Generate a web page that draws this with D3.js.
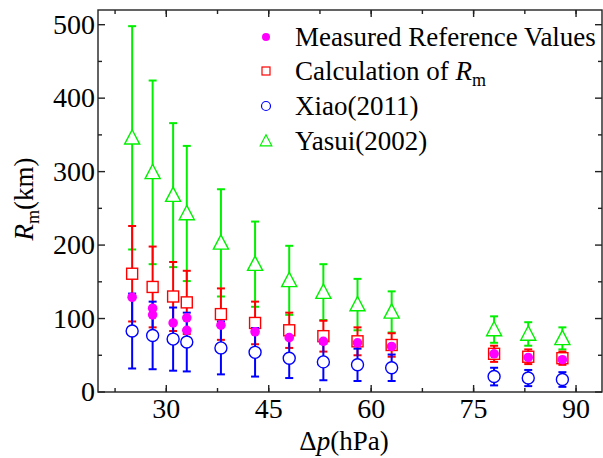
<!DOCTYPE html>
<html>
<head>
<meta charset="utf-8">
<script src="https://cdn.jsdelivr.net/npm/d3@7"></script>
<style>
  body { margin: 0; background: #fff; }
</style>
</head>
<body>
<div id="chart"></div>
<script>
// --------------------------------------
//  Data
// --------------------------------------

const dp = [25, 28, 31, 33, 38, 43, 48, 53, 58, 63, 78, 83, 88];

const measuredDp = [25, 28, 28, 31, 33, 33, 38, 43, 48, 53, 58, 63, 78, 83, 88];
const measuredRm = [129, 114, 105, 94, 101, 84, 91, 82, 74, 69, 67, 62, 52, 47, 44];

const calcRm  = [161, 143, 130, 122, 106, 94, 84, 76, 69, 64, 52, 48, 46];
const calcErr = [65, 55, 47, 43, 35, 29, 24, 21, 19, 16, 11, 10, 9];

const xiaoRm  = [83, 77, 72, 68, 60, 54, 46, 41, 37, 33, 21, 19, 17];
const xiaoErr = [51, 46, 43, 40, 36, 33, 27, 25, 22, 18, 12, 11, 10];

const yasuiRm  = [346, 299, 268, 243, 203, 174, 152, 136, 119, 109, 85, 79, 73];
const yasuiErr = [152, 125, 98, 92, 73, 58, 47, 38, 35, 28, 18, 16, 15];

const xTicks = [30, 45, 60, 75, 90];
const yTicks = [0, 100, 200, 300, 400, 500];

// --------------------------------------
//  Canvas
// --------------------------------------

const width = 603, height = 458;
const pLeft = 98, pRight = 602, pTop = 10, pBottom = 392;
const FONT = "Liberation Serif";

const svg = d3.select("#chart")
  .append("svg")
    .attr("width", width)
    .attr("height", height);

// --------------------------------------
//  Scales
// --------------------------------------

const x = d3.scaleLinear().domain([20, 93.8]).range([pLeft, pRight]);
const y = d3.scaleLinear().domain([0, 520]).range([pBottom, pTop]);

// --------------------------------------
//  Axes (ticks inside, mirrored on top/right)
// --------------------------------------

const xMinor = d3.range(22.5, 93.8, 7.5);
const yMinor = d3.range(50, 520, 100);

const axes = svg.append("g").attr("stroke", "#222").attr("stroke-width", 1.4);

axes.append("rect")
  .attr("x", pLeft).attr("y", pTop)
  .attr("width", pRight - pLeft).attr("height", pBottom - pTop)
  .attr("fill", "none");

xTicks.forEach(t => {
  axes.append("line").attr("x1", x(t)).attr("x2", x(t)).attr("y1", pBottom).attr("y2", pBottom - 7);
  axes.append("line").attr("x1", x(t)).attr("x2", x(t)).attr("y1", pTop).attr("y2", pTop + 7);
});
xMinor.forEach(t => {
  axes.append("line").attr("x1", x(t)).attr("x2", x(t)).attr("y1", pBottom).attr("y2", pBottom - 4);
  axes.append("line").attr("x1", x(t)).attr("x2", x(t)).attr("y1", pTop).attr("y2", pTop + 4);
});
yTicks.forEach(t => {
  axes.append("line").attr("x1", pLeft).attr("x2", pLeft + 7).attr("y1", y(t)).attr("y2", y(t));
  axes.append("line").attr("x1", pRight).attr("x2", pRight - 7).attr("y1", y(t)).attr("y2", y(t));
});
yMinor.forEach(t => {
  axes.append("line").attr("x1", pLeft).attr("x2", pLeft + 4).attr("y1", y(t)).attr("y2", y(t));
  axes.append("line").attr("x1", pRight).attr("x2", pRight - 4).attr("y1", y(t)).attr("y2", y(t));
});

svg.selectAll(".xlab")
  .data(xTicks)
  .join("text")
    .attr("class", "xlab")
    .attr("font-family", FONT)
    .attr("x", d => x(d))
    .attr("y", pBottom + 26)
    .attr("text-anchor", "middle")
    .attr("font-size", 28)
    .text(d => d);

svg.selectAll(".ylab")
  .data(yTicks)
  .join("text")
    .attr("class", "ylab")
    .attr("font-family", FONT)
    .attr("x", pLeft - 3)
    .attr("y", d => y(d) + 9)
    .attr("text-anchor", "end")
    .attr("font-size", 28)
    .text(d => d);

// axis titles
const xt = svg.append("text")
  .attr("font-family", FONT)
  .attr("x", (pLeft + pRight) / 2 - 6)
  .attr("y", 450)
  .attr("text-anchor", "middle")
  .attr("font-size", 27);
xt.append("tspan").text("Δ");
xt.append("tspan").attr("font-style", "italic").text("p");
xt.append("tspan").text("(hPa)");

const yt = svg.append("text")
  .attr("font-family", FONT)
  .attr("transform", `translate(33, 199) rotate(-90)`)
  .attr("text-anchor", "middle")
  .attr("font-size", 27);
yt.append("tspan").attr("font-style", "italic").text("R");
yt.append("tspan").attr("font-size", 18).attr("dy", 6).text("m");
yt.append("tspan").attr("dy", -6).text("(km)");

// --------------------------------------
//  Data drawing
// --------------------------------------

const plot = svg.append("g");

function errorBars(vals, errs, color, lw) {
  const g = plot.append("g").attr("stroke", color).attr("stroke-width", lw);
  dp.forEach((d, i) => {
    const cx = x(d), hi = y(vals[i] + errs[i]), lo = y(vals[i] - errs[i]);
    g.append("line").attr("x1", cx).attr("x2", cx).attr("y1", hi).attr("y2", lo);
    g.append("line").attr("x1", cx - 4).attr("x2", cx + 4).attr("y1", hi).attr("y2", hi);
    g.append("line").attr("x1", cx - 4).attr("x2", cx + 4).attr("y1", lo).attr("y2", lo);
  });
}

const triangle = (cx, cy, s) =>
  `M${cx},${cy - s * 0.62}L${cx + s * 0.58},${cy + s * 0.48}L${cx - s * 0.58},${cy + s * 0.48}Z`;

// Yasui (2002)
errorBars(yasuiRm, yasuiErr, "#00f000", 2);
plot.append("g").selectAll("path")
  .data(dp)
  .join("path")
    .attr("d", (d, i) => triangle(x(d), y(yasuiRm[i]), 13))
    .attr("fill", "#fff")
    .attr("stroke", "#00f000")
    .attr("stroke-width", 1.4);

// Calculation of Rm
errorBars(calcRm, calcErr, "#ff0000", 2);
plot.append("g").selectAll("rect")
  .data(dp)
  .join("rect")
    .attr("x", d => x(d) - 5.5)
    .attr("y", (d, i) => y(calcRm[i]) - 5.5)
    .attr("width", 11)
    .attr("height", 11)
    .attr("fill", "#fff")
    .attr("stroke", "#ff0000")
    .attr("stroke-width", 1.4);

// Xiao (2011)
errorBars(xiaoRm, xiaoErr, "#0000ff", 2);
plot.append("g").selectAll("circle")
  .data(dp)
  .join("circle")
    .attr("cx", d => x(d))
    .attr("cy", (d, i) => y(xiaoRm[i]))
    .attr("r", 6)
    .attr("fill", "#fff")
    .attr("stroke", "#0000ff")
    .attr("stroke-width", 1.4);

// Measured reference values
plot.append("g").selectAll("circle")
  .data(measuredDp)
  .join("circle")
    .attr("cx", d => x(d))
    .attr("cy", (d, i) => y(measuredRm[i]))
    .attr("r", 4.8)
    .attr("fill", "#ff00ff");

// --------------------------------------
//  Legend
// --------------------------------------

const lx = 266, tx = 295;
const legend = svg.append("g");

legend.append("circle").attr("cx", lx).attr("cy", 37).attr("r", 4).attr("fill", "#ff00ff");
legend.append("rect").attr("x", lx - 4).attr("y", 67).attr("width", 8).attr("height", 8)
  .attr("fill", "none").attr("stroke", "#ff0000").attr("stroke-width", 1.2);
legend.append("circle").attr("cx", lx).attr("cy", 106).attr("r", 4.5)
  .attr("fill", "none").attr("stroke", "#0000ff").attr("stroke-width", 1.2);
legend.append("path").attr("d", triangle(lx, 141, 10))
  .attr("fill", "none").attr("stroke", "#00f000").attr("stroke-width", 1.2);

const legendText = (yy) => legend.append("text")
  .attr("font-family", FONT).attr("x", tx).attr("y", yy).attr("font-size", 27);

legendText(46).text("Measured Reference Values");
const lt = legendText(80);
lt.append("tspan").text("Calculation of ");
lt.append("tspan").attr("font-style", "italic").text("R");
lt.append("tspan").attr("font-size", 18).attr("dy", 6).text("m");
legendText(115).text("Xiao(2011)");
legendText(150).text("Yasui(2002)");
</script>
</body>
</html>
